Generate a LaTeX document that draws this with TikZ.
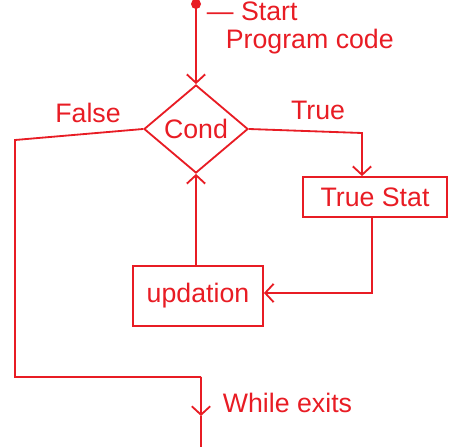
\documentclass[tikz,border=0pt]{standalone}
\usepackage{fontspec}
\setmainfont{Liberation Sans}
\usetikzlibrary{arrows.meta,shapes.geometric}
\definecolor{pen}{RGB}{232,28,36}

\begin{document}
\begin{tikzpicture}[
  x=0.025cm, y=-0.025cm,
  line width=1.3pt, draw=pen, text=pen,
  every node/.style={font=\fontsize{19}{21}\selectfont, text=pen},
  cond/.style={diamond, draw, line width=1.3pt, minimum width=2.6cm, minimum height=2.2cm, inner sep=0pt},
  stat/.style={rectangle, draw, line width=1.3pt, align=center, inner sep=2pt},
  lbl/.style={inner sep=0pt},
  >={Straight Barb[length=6pt, width=13pt]}
]
\useasboundingbox (0,0) rectangle (449,447);

% start of the loop
\fill[pen] (196,4) circle (5);
\coordinate (start) at (196,4);
\node[lbl, anchor=north west] (startlbl) at (206,1) {--- Start};
\node[lbl, anchor=west] (prog) at (225,42) {Program code};

\node[cond] (cond) at (196,129) {Cond};
\node[stat, minimum width=3.6cm, minimum height=1cm] (truestat) at (375,197) {True Stat};
\node[stat, minimum width=3.25cm, minimum height=1.5cm] (upd) at (198,296) {updation};

\node[lbl] (false) at (88,113) {False};
\node[lbl] (true) at (318,110) {True};
\node[lbl, anchor=west] (exits) at (222,403) {While exits};

\coordinate (fl) at (15,140);
\coordinate (fb) at (15,377);
\coordinate (ex) at (201,377);
\coordinate (exarr) at (201,416);
\coordinate (exend) at (201,450);
\coordinate (tr) at (362,133);
\coordinate (tb) at (372,293);

\draw[->] (start) -- (cond.north);
\draw[->] (cond.east) -- (tr) -- (tr |- truestat.north);
\draw[->] (tb |- truestat.south) -- (tb) -- (upd.east |- tb);
\draw[->] (upd.north -| cond.south) -- (cond.south);
\draw (cond.west) -- (fl) -- (fb) -- (ex);
\draw[->] (ex) -- (exarr);
\draw (exarr) -- (exend);
\end{tikzpicture}
\end{document}
